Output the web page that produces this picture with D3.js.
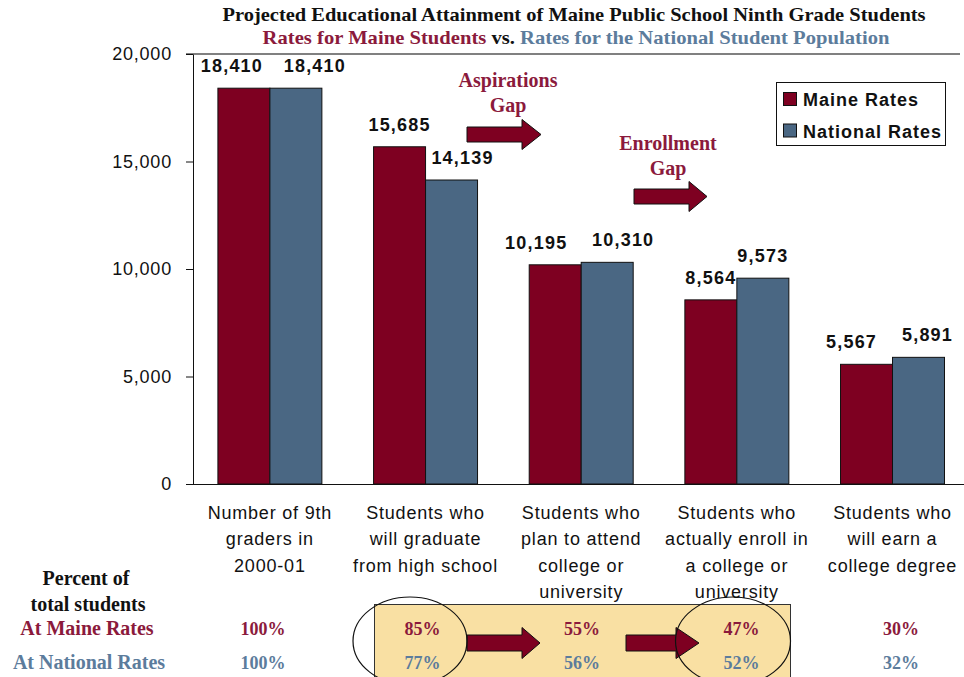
<!DOCTYPE html>
<html>
<head>
<meta charset="utf-8">
<script src="https://cdn.jsdelivr.net/npm/d3@7/dist/d3.min.js"></script>
<style>
  body { margin: 0; background: #fff; }
  svg { display: block; }
</style>
</head>
<body>
<svg id="chart" width="964" height="677"></svg>
<script>
// chart values
var categories = [
  "Number of 9th graders in 2000-01",
  "Students who will graduate from high school",
  "Students who plan to attend college or university",
  "Students who actually enroll in a college or university",
  "Students who will earn a college degree"
];
var categoryLines = [
  ["Number of 9th", "graders in", "2000-01"],
  ["Students who", "will graduate", "from high school"],
  ["Students who", "plan to attend", "college or", "university"],
  ["Students who", "actually enroll in", "a college or", "university"],
  ["Students who", "will earn a", "college degree"]
];
var seriesNames = ["Maine Rates", "National Rates"];
var maineValues = [18410, 15685, 10195, 8564, 5567];
var nationalValues = [18410, 14139, 10310, 9573, 5891];
var mainePercents = [100, 85, 55, 47, 30];
var nationalPercents = [100, 77, 56, 52, 32];
var yTicks = [0, 5000, 10000, 15000, 20000];

// label nudges (as hand placed in the original)
var maineNudge = [-12, 0, -19, 0, -15],
    nationalNudge = [19, 11, 16, 0, 9];

var MAROON = "#7e0021",
    SLATE = "#4a6783",
    MAROON_TXT = "#8b1a3c",
    SLATE_TXT = "#5c7c9c",
    SANS = "'Liberation Sans', Arial, sans-serif",
    SERIF = "'Liberation Serif', 'Times New Roman', serif";

var vis = d3.select("#chart");
vis.append("rect").attr("width", 964).attr("height", 677).attr("fill", "#fff");

var x0 = d3.scaleBand()
    .domain(categories)
    .range([193, 969.4])
    .paddingInner(0.332)
    .paddingOuter(0.16);
var x1 = d3.scaleBand()
    .domain(seriesNames)
    .range([0, x0.bandwidth()]);
var y = d3.scaleLinear()
    .domain([0, 20000])
    .range([484, 54]);
var pctX = d3.scalePoint()
    .domain(categories)
    .range([263, 901]);

var rows = categories.map(function(c, i) {
  return {cat: c, i: i, values: [
    {key: seriesNames[0], value: maineValues[i], nudge: maineNudge[i], color: MAROON},
    {key: seriesNames[1], value: nationalValues[i], nudge: nationalNudge[i], color: SLATE}
  ]};
});

// titles
function fitText(sel, cx, target) {
  var w = sel.node().getComputedTextLength();
  sel.attr("transform", "translate(" + cx + ",0) scale(" + (target / w) + ",1)");
}
var t1 = vis.append("text")
  .attr("x", 0).attr("y", 21)
  .attr("text-anchor", "middle")
  .style("font-family", SERIF).style("font-weight", "bold").style("font-size", "18px")
  .attr("fill", "#111")
  .text("Projected Educational Attainment of Maine Public School Ninth Grade Students");
fitText(t1, 574, 704);
var t2 = vis.append("text")
  .attr("x", 0).attr("y", 44)
  .attr("text-anchor", "middle")
  .style("font-family", SERIF).style("font-weight", "bold").style("font-size", "18px");
t2.append("tspan").attr("fill", MAROON_TXT).text("Rates for Maine Students");
t2.append("tspan").attr("fill", "#111").text(" vs. ");
t2.append("tspan").attr("fill", SLATE_TXT).text("Rates for the National Student Population");
fitText(t2, 576, 627);

// top gray rule
vis.append("line")
  .attr("x1", 186).attr("x2", 960).attr("y1", 54).attr("y2", 54)
  .attr("stroke", "#808080").attr("stroke-width", 2);

// bars
var groups = vis.selectAll("g.group")
  .data(rows)
  .enter().append("g")
  .attr("class", "group")
  .attr("transform", function(d) { return "translate(" + x0(d.cat) + ",0)"; });

groups.selectAll("rect")
  .data(function(d) { return d.values; })
  .enter().append("rect")
  .attr("x", function(d) { return x1(d.key); })
  .attr("y", function(d) { return y(d.value); })
  .attr("width", x1.bandwidth())
  .attr("height", function(d) { return y(0) - y(d.value); })
  .attr("fill", function(d) { return d.color; })
  .attr("stroke", "#111")
  .attr("stroke-width", 1);

groups.selectAll("text.val")
  .data(function(d) { return d.values; })
  .enter().append("text")
  .attr("class", "val")
  .attr("x", function(d) { return x1(d.key) + x1.bandwidth() / 2 + d.nudge; })
  .attr("y", function(d) { return y(d.value) - 16; })
  .attr("text-anchor", "middle")
  .style("font-family", SANS).style("font-weight", "bold").style("font-size", "18px")
  .style("letter-spacing", "1.2px")
  .attr("fill", "#111")
  .text(function(d) { return d3.format(",")(d.value); });

// axes
var yAxis = d3.axisLeft(y)
  .tickValues(yTicks)
  .tickSize(7)
  .tickSizeOuter(0)
  .tickPadding(14)
  .tickFormat(d3.format(","));
var gy = vis.append("g")
  .attr("transform", "translate(193,0)")
  .call(yAxis);
gy.selectAll("text")
  .style("font-family", SANS).style("font-size", "18px").style("letter-spacing", "0.8px")
  .attr("fill", "#111");
gy.selectAll("line, path").attr("stroke", "#111");

var xAxis = d3.axisBottom(x0).tickSize(0).tickSizeOuter(0).tickFormat("");
var gx = vis.append("g")
  .attr("transform", "translate(0,484)")
  .call(xAxis);
gx.select("path").attr("stroke", "#111").attr("d", "M186,0.5H964");

var catLabels = vis.selectAll("text.cat")
  .data(rows)
  .enter().append("text")
  .attr("class", "cat")
  .attr("text-anchor", "middle")
  .style("font-family", SANS).style("font-size", "18px").style("letter-spacing", "0.8px")
  .attr("fill", "#111");
catLabels.selectAll("tspan")
  .data(function(d) { return categoryLines[d.i].map(function(l) { return {line: l, cat: d.cat}; }); })
  .enter().append("tspan")
  .attr("x", function(d) { return x0(d.cat) + x0.bandwidth() / 2; })
  .attr("y", function(d, j) { return 519 + j * 26.3; })
  .text(function(d) { return d.line; });

// legend
var legend = vis.append("g");
legend.append("rect")
  .attr("x", 776.5).attr("y", 82.5).attr("width", 169).attr("height", 63)
  .attr("fill", "#fff").attr("stroke", "#111");
seriesNames.forEach(function(s, i) {
  legend.append("rect")
    .attr("x", 783.5).attr("y", 92.5 + i * 31.5).attr("width", 13).attr("height", 13)
    .attr("fill", i ? SLATE : MAROON).attr("stroke", "#111");
  legend.append("text")
    .attr("x", 803).attr("y", 106 + i * 31.5)
    .style("font-family", SANS).style("font-weight", "bold").style("font-size", "18px")
    .style("letter-spacing", "1px")
    .attr("fill", "#111")
    .text(s);
});

// gap annotations
function arrow(xs, xh, tip, yc, sh, hh) {
  return "M" + xs + "," + (yc - sh) + "H" + xh + "V" + (yc - hh) + "L" + tip + "," + yc +
    "L" + xh + "," + (yc + hh) + "V" + (yc + sh) + "H" + xs + "Z";
}
function gapNote(lines, cx, y0) {
  lines.forEach(function(l, i) {
    vis.append("text")
      .attr("x", cx).attr("y", y0 + i * 25)
      .attr("text-anchor", "middle")
      .style("font-family", SERIF).style("font-weight", "bold").style("font-size", "20px")
      .attr("fill", MAROON_TXT)
      .text(l);
  });
}
gapNote(["Aspirations", "Gap"], 508, 87);
gapNote(["Enrollment", "Gap"], 668, 150);
vis.append("path").attr("d", arrow(467, 522, 541, 134.5, 7.5, 15))
  .attr("fill", MAROON).attr("stroke", "#111");
vis.append("path").attr("d", arrow(634, 689, 707, 196.5, 7.5, 15))
  .attr("fill", MAROON).attr("stroke", "#111");

// percent table
vis.append("rect")
  .attr("x", 374.5).attr("y", 604.5).attr("width", 416).attr("height", 90)
  .attr("fill", "#f9e0a3").attr("stroke", "#333");

[["Percent of", 86, 585, "#111"], ["total students", 88, 611, "#111"],
 ["At Maine Rates", 87, 635, MAROON_TXT], ["At National Rates", 89, 669, SLATE_TXT]]
  .forEach(function(r) {
    vis.append("text")
      .attr("x", r[1]).attr("y", r[2])
      .attr("text-anchor", "middle")
      .style("font-family", SERIF).style("font-weight", "bold").style("font-size", "20px")
      .attr("fill", r[3])
      .text(r[0]);
  });

function pctRow(vals, yy, color) {
  vis.selectAll(null)
    .data(vals)
    .enter().append("text")
    .attr("x", function(d, i) { return pctX(categories[i]); })
    .attr("y", yy)
    .attr("text-anchor", "middle")
    .style("font-family", SERIF).style("font-weight", "bold").style("font-size", "18px")
    .attr("fill", color)
    .text(function(d) { return d + "%"; });
}
pctRow(mainePercents, 635, MAROON_TXT);
pctRow(nationalPercents, 669, SLATE_TXT);

vis.append("path").attr("d", arrow(467, 522, 540, 643, 8, 15.5))
  .attr("fill", MAROON).attr("stroke", "#111");
vis.append("path").attr("d", arrow(626, 676, 699, 643, 8, 15.5))
  .attr("fill", MAROON).attr("stroke", "#111");

vis.append("ellipse")
  .attr("cx", 410).attr("cy", 641).attr("rx", 57).attr("ry", 44)
  .attr("fill", "none").attr("stroke", "#111").attr("stroke-width", 1.2);
vis.append("ellipse")
  .attr("cx", 733).attr("cy", 641).attr("rx", 57.5).attr("ry", 44)
  .attr("fill", "none").attr("stroke", "#111").attr("stroke-width", 1.2);
</script>
</body>
</html>
